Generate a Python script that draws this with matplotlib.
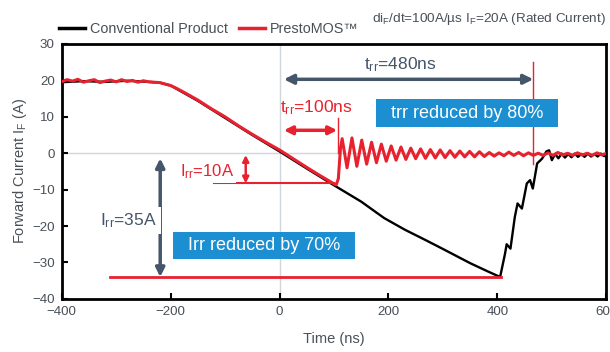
import matplotlib.pyplot as plt
from matplotlib.patches import Rectangle
from matplotlib.lines import Line2D

plt.rcParams.update({
    'font.family': ['Liberation Sans', 'DejaVu Sans'],
    'mathtext.fontset': 'custom',
    'mathtext.rm': 'Liberation Sans',
    'mathtext.it': 'Liberation Sans:italic',
})

# --- Data ---
# Conventional product (black)
black_t = [-400, -360, -320, -280, -240, -220, -200, -150, -100, -50, 0, 50, 100,
           150, 192, 230, 270, 300, 350, 380, 405, 414, 417, 424, 432, 437, 445,
           454, 460, 465, 473, 482, 490, 495, 500, 506, 512, 518, 524, 530, 536,
           542, 548, 554, 560, 566, 572, 578, 584, 590, 596, 600]
black_i = [19.5, 19.8, 19.6, 19.9, 19.6, 19.4, 18.6, 14.4, 9.7, 5.0, 0.5, -4.2, -8.8,
           -13.3, -17.8, -21.0, -24.0, -26.3, -30.2, -32.3, -34.0, -27.6, -25.0, -26.2,
           -17.5, -13.8, -15.2, -8.3, -7.4, -9.7, -2.8, -1.5, 0.5, 0.8, -1.9, -0.2,
           -1.4, -0.1, -1.2, -0.2, -1.1, -0.1, -1.0, -0.2, -1.0, -0.1, -0.9, -0.2,
           -0.9, -0.1, -0.8, -0.4]

# PrestoMOS (red)
red_t = [-400, -390, -380, -370, -360, -350, -340, -330, -320, -310, -300, -290,
         -280, -270, -260, -250, -240, -230, -220, -210, -200, -190, -175, -150,
         -125, -100, -75, -50, -25, 0, 25, 50, 75, 100, 104, 108, 112,
         115, 124, 133, 142, 151, 160, 169, 178, 187, 196, 205, 214, 223, 232,
         241, 250, 259, 268, 277, 286, 295, 304, 313, 322, 331, 340, 349, 358,
         367, 376, 385, 394, 403, 412, 421, 430, 439, 448, 457, 466, 475, 484,
         493, 502, 511, 520, 529, 538, 547, 556, 565, 574, 583, 592, 600]
red_i = [19.6, 20.2, 19.8, 20.3, 19.5, 19.9, 20.2, 19.4, 19.8, 20.1, 19.6, 20.2,
         19.7, 20.0, 19.5, 19.9, 19.6, 19.5, 19.4, 19.0, 18.6, 17.9, 16.7, 14.6,
         12.2, 10.0, 7.5, 5.2, 3.0, 0.9, -1.5, -3.9, -6.2, -8.4, -8.7, -7.0, 1.5,
         4.0, -4.0, 4.2, -3.6, 3.6, -3.0, 3.0, -2.6, 2.5, -2.2, 2.0, -1.9, 1.7, -1.7,
         1.4, -1.5, 1.2, -1.4, 1.0, -1.3, 0.9, -1.2, 0.7, -1.1, 0.6, -1.0, 0.5, -1.0,
         0.4, -0.9, 0.2, -0.8, 0.1, -0.7, 0.3, -0.6, 0.2, -0.7, 0.1, -0.6, 0.0, -0.6,
         0.1, -0.6, 0.2, -0.5, 0.0, -0.6, 0.1, -0.5, 0.0, -0.6, 0.1, -0.5, 0.0]

TRR_CONV = (8, 466)
TRR_PRESTO = (8, 106)
IRR_CONV = -34.0
IRR_PRESTO = -8.3

x_ticks = [-400, -200, 0, 200, 400, 600]
y_ticks = [-40, -30, -20, -10, 0, 10, 20, 30]

RED = '#e8212e'
SLATE = '#45556a'
BLUE = '#1b8fd2'
TXT = '#4a5058'

fig = plt.figure(figsize=(6.1, 3.52), dpi=100)
ax = fig.add_axes([0.101, 0.151, 0.893, 0.724])

ax.axvline(0, color='#cfd6dc', lw=1, zorder=0)
ax.axhline(0, color='#cfd6dc', lw=1, zorder=0)

ax.plot(black_t, black_i, color='black', lw=1.7, zorder=3)
ax.plot(red_t, red_i, color=RED, lw=2.2, zorder=4)

# reference lines
ax.plot([TRR_CONV[1], TRR_CONV[1]], [25, -3], color=RED, lw=1, zorder=5)
ax.plot([TRR_PRESTO[1] + 2, TRR_PRESTO[1] + 2], [9.6, 0], color=RED, lw=1, zorder=5)
ax.plot([-120, 100], [IRR_PRESTO, IRR_PRESTO], color=RED, lw=1.5, zorder=5)
ax.plot([-312, 407], [IRR_CONV, IRR_CONV], color=RED, lw=2, zorder=5)

# arrows
ax.annotate('', xy=(TRR_CONV[1], 20.3), xytext=(TRR_CONV[0], 20.3),
            arrowprops=dict(arrowstyle='<|-|>', color=SLATE, lw=2.5,
                            mutation_scale=14, shrinkA=0, shrinkB=0), zorder=6)
ax.annotate('', xy=(TRR_PRESTO[1], 6.3), xytext=(TRR_PRESTO[0], 6.3),
            arrowprops=dict(arrowstyle='<|-|>', color=RED, lw=2.5,
                            mutation_scale=12, shrinkA=0, shrinkB=0), zorder=6)
ax.annotate('', xy=(-62, IRR_PRESTO), xytext=(-62, -0.5),
            arrowprops=dict(arrowstyle='<|-|>', color=RED, lw=1.8,
                            mutation_scale=9, shrinkA=0, shrinkB=0), zorder=6)
ax.annotate('', xy=(-219, IRR_CONV), xytext=(-219, -1.4),
            arrowprops=dict(arrowstyle='<|-|>', color=SLATE, lw=2.5,
                            mutation_scale=13, shrinkA=0, shrinkB=0), zorder=6)

# labels
ax.text(222, 24.4, r't$_\mathregular{rr}$=480ns', color=SLATE, fontsize=12.5,
        ha='center', va='center', zorder=7)
ax.text(67, 12.6, r't$_\mathregular{rr}$=100ns', color=RED, fontsize=12.5,
        ha='center', va='center', zorder=7)
ax.text(-132, -5.1, r'I$_\mathregular{rr}$=10A', color=RED, fontsize=12,
        ha='center', va='center', zorder=7,
        bbox=dict(boxstyle='square,pad=0.1', fc='white', ec='none'))
ax.text(-278, -18.4, r'I$_\mathregular{rr}$=35A', color=SLATE, fontsize=12.5,
        ha='center', va='center', zorder=7,
        bbox=dict(boxstyle='square,pad=0.25', fc='white', ec='none'))

# blue call-out boxes
ax.add_patch(Rectangle((178, 7.1), 334, 7.7, fc=BLUE, ec='none', zorder=7))
ax.text(345, 10.95, 'trr reduced by 80%', color='white', fontsize=13,
        ha='center', va='center', zorder=8)
ax.add_patch(Rectangle((-196, -29.1), 334, 7.4, fc=BLUE, ec='none', zorder=7))
ax.text(-29, -25.4, 'Irr reduced by 70%', color='white', fontsize=13,
        ha='center', va='center', zorder=8)

ax.set_xlim(-400, 600)
ax.set_ylim(-40, 30)
ax.set_xticks(x_ticks)
ax.set_yticks(y_ticks)
ax.set_xticklabels([str(v).replace('-', '\u2212') for v in x_ticks])
ax.set_yticklabels([str(v).replace('-', '\u2212') for v in y_ticks])
ax.tick_params(direction='in', length=4, width=1.5, color='black',
               labelcolor=TXT, labelsize=9.6, pad=5)
for s in ax.spines.values():
    s.set_linewidth(2)

ax.set_xlabel('Time (ns)', color=TXT, fontsize=10.5, labelpad=10)
ax.set_ylabel(r'Forward Current I$_\mathregular{F}$ (A)', color=TXT, fontsize=10.5,
              labelpad=2)

# legend and conditions on top
handles = [Line2D([0], [0], color='black', lw=2.5, label='Conventional Product'),
           Line2D([0], [0], color=RED, lw=2.5, label='PrestoMOS\u2122')]
fig.legend(handles=handles, loc='center left', bbox_to_anchor=(0.097, 0.918),
           ncol=2, frameon=False, fontsize=10.4, handlelength=1.8,
           handletextpad=0.3, columnspacing=0.8, borderpad=0, borderaxespad=0,
           labelcolor=TXT)
fig.text(0.993, 0.947, 'di$_\\mathregular{F}$/dt=100A/\u00b5s I$_\\mathregular{F}$=20A (Rated Current)',
         color=TXT, fontsize=9.7, ha='right', va='center')

fig.savefig('out.png', dpi=100)
